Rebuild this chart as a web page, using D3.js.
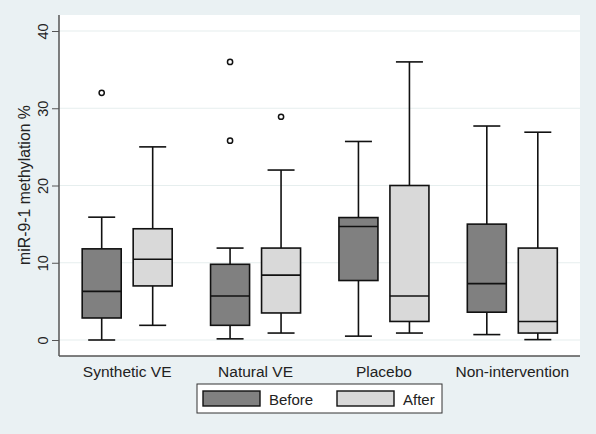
<!DOCTYPE html>
<html><head><meta charset="utf-8">
<script src="https://cdn.jsdelivr.net/npm/d3@7"></script>
<style>body{margin:0;background:#eaf1f3;}svg{display:block;font-family:"Liberation Sans",Arial,sans-serif;}</style>
</head><body><svg id="c" width="596" height="434"></svg>
<script>
const categories = ["Synthetic VE","Natural VE","Placebo","Non-intervention"];
const seriesNames = ["Before","After"];
const seriesColors = ["#808080","#d9d9d9"];
// [lowWhisker, Q1, median, Q3, highWhisker] per category
const beforeStats = [[0,2.85,6.3,11.8,15.9],[0.15,1.9,5.7,9.8,11.9],[0.5,7.7,14.7,15.85,25.7],[0.7,3.6,7.3,15.0,27.7]];
const afterStats  = [[1.9,7.0,10.45,14.4,25.0],[0.9,3.5,8.4,11.9,22.0],[0.9,2.4,5.7,20.0,36.0],[0.05,0.9,2.4,11.9,26.9]];
const beforeOutliers = [[32.0],[36.0,25.8],[],[]];
const afterOutliers  = [[],[28.9],[],[]];
const yTicks = [0,10,20,30,40];

const svg = d3.select("#c");
const L=59,R=580,T=15,B=356;
svg.append("rect").attr("x",L).attr("y",T).attr("width",R-L).attr("height",B-T).attr("fill","#ffffff");
const y = d3.scaleLinear().domain([0,40]).range([340,31]);
const x = d3.scaleBand().domain(categories).range([L+4,R-3.5]).paddingInner(0).paddingOuter(0);
const xs = d3.scaleBand().domain(seriesNames).range([-45,45]).paddingInner(0.235).paddingOuter(0);
// grid
svg.append("g").selectAll("line").data(yTicks).join("line")
  .attr("x1",L).attr("x2",R).attr("y1",d=>y(d)).attr("y2",d=>y(d))
  .attr("stroke","#e6eeee").attr("stroke-width",1.2);
// axes
const ya = svg.append("g").attr("transform",`translate(${L},0)`).call(d3.axisLeft(y).tickValues(yTicks).tickSize(7).tickPadding(4));
ya.select(".domain").attr("d",`M0,${T}V${B}`).attr("stroke","#555").attr("stroke-width",1.5);
ya.selectAll(".tick line").attr("stroke","#555");
ya.selectAll(".tick text").attr("font-size",14.5).attr("fill","#222")
  .attr("text-anchor","middle").attr("transform","rotate(-90)").attr("x",0).attr("dy",0)
  .attr("y",-11);
svg.append("line").attr("x1",L).attr("x2",R).attr("y1",B).attr("y2",B).attr("stroke","#555").attr("stroke-width",1.5);
svg.append("text").attr("transform",`translate(30,185) rotate(-90)`).attr("text-anchor","middle")
  .attr("font-size",15.8).attr("fill","#222").text("miR-9-1 methylation %");
// category labels
svg.append("g").selectAll("text").data(categories).join("text")
  .attr("x",d=>x(d)+x.bandwidth()/2).attr("y",376.5).attr("text-anchor","middle")
  .attr("font-size",15.5).attr("fill","#222").text(d=>d);
// boxes
const all = [beforeStats, afterStats];
const outs = [beforeOutliers, afterOutliers];
const capW = 27;
all.forEach((stats,si)=>{
  const g = svg.append("g");
  stats.forEach((s,ci)=>{
    const cx = x(categories[ci]) + x.bandwidth()/2 + xs(seriesNames[si]) + xs.bandwidth()/2;
    const bw = xs.bandwidth();
    const [lo,q1,md,q3,hi] = s;
    g.append("line").attr("x1",cx).attr("x2",cx).attr("y1",y(hi)).attr("y2",y(q3)).attr("stroke","#111").attr("stroke-width",1.6);
    g.append("line").attr("x1",cx).attr("x2",cx).attr("y1",y(q1)).attr("y2",y(lo)).attr("stroke","#111").attr("stroke-width",1.6);
    g.append("line").attr("x1",cx-capW/2).attr("x2",cx+capW/2).attr("y1",y(hi)).attr("y2",y(hi)).attr("stroke","#111").attr("stroke-width",1.6);
    g.append("line").attr("x1",cx-capW/2).attr("x2",cx+capW/2).attr("y1",y(lo)).attr("y2",y(lo)).attr("stroke","#111").attr("stroke-width",1.6);
    g.append("rect").attr("x",cx-bw/2).attr("width",bw).attr("y",y(q3)).attr("height",y(q1)-y(q3))
      .attr("fill",seriesColors[si]).attr("stroke","#111").attr("stroke-width",1.6);
    g.append("line").attr("x1",cx-bw/2).attr("x2",cx+bw/2).attr("y1",y(md)).attr("y2",y(md)).attr("stroke","#111").attr("stroke-width",1.6);
    outs[si][ci].forEach(v=>{
      g.append("circle").attr("cx",cx).attr("cy",y(v)).attr("r",2.6).attr("fill","#fff").attr("stroke","#111").attr("stroke-width",1.5);
    });
  });
});
// legend
const lg = svg.append("g");
lg.append("rect").attr("x",197).attr("y",384).attr("width",245).attr("height",29).attr("fill","#fff").attr("stroke","#333").attr("stroke-width",1);
const lx = [203,337];
seriesNames.forEach((n,i)=>{
  lg.append("rect").attr("x",lx[i]).attr("y",391).attr("width",57).attr("height",15).attr("fill",seriesColors[i]).attr("stroke","#111").attr("stroke-width",1.4);
  lg.append("text").attr("x",lx[i]+66).attr("y",404.5).attr("font-size",15).attr("fill","#222").text(n);
});
</script></body></html>
